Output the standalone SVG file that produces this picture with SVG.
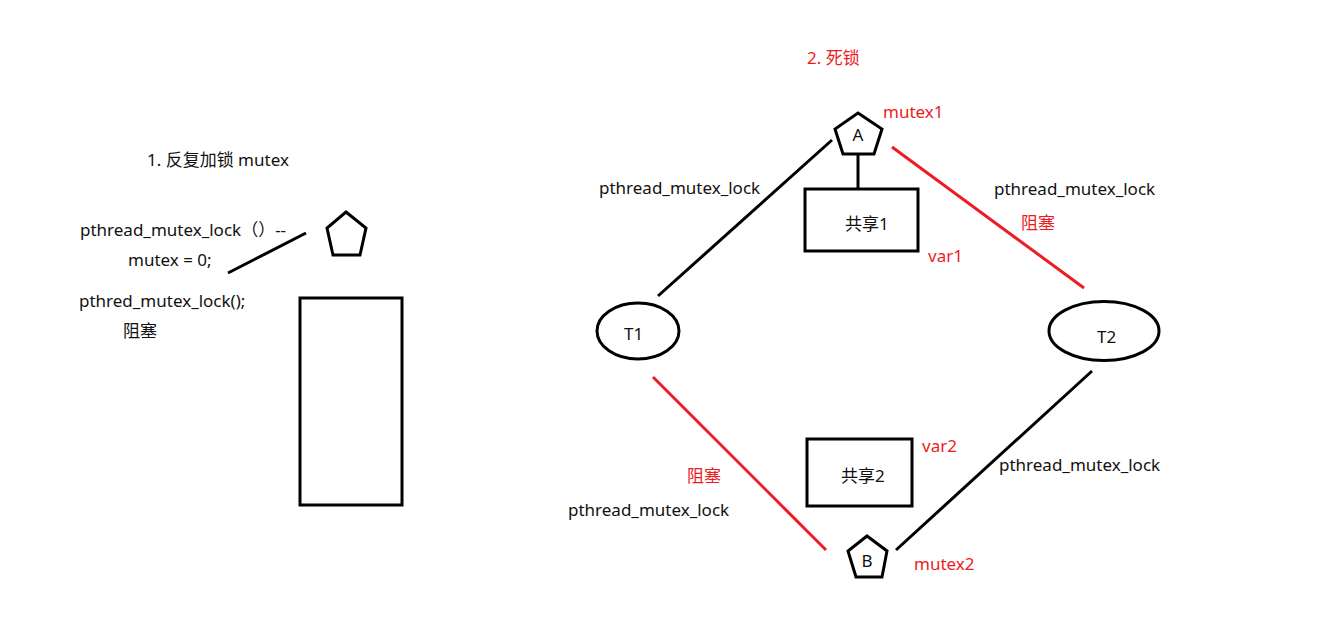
<svg xmlns="http://www.w3.org/2000/svg" width="1323" height="619" viewBox="0 0 1323 619">
<style>
.t{font-family:"Noto Sans","Noto Sans CJK SC",sans-serif;font-size:17px;fill:#111}
.r{fill:#ED1C24}
.s{fill:none;stroke:#000;stroke-width:3}
.ln{stroke:#000;stroke-width:3;fill:none}
.rl{stroke:#ED1C24;stroke-width:3;fill:none}
</style>
<rect width="1323" height="619" fill="#fff"/>
<g id="left">
  <text class="t" x="147" y="166">1. 反复加锁 mutex</text>
  <text class="t" x="80" y="236">pthread_mutex_lock（）--</text>
  <text class="t" x="128" y="266">mutex = 0;</text>
  <text class="t" x="79" y="307">pthred_mutex_lock();</text>
  <text class="t" x="123" y="337">阻塞</text>
</g>
<g id="lock0"><polygon class="s" points="346,212 366,228 360,255 333,255 327,228"/></g>
<g id="res0"><rect class="s" x="300" y="298" width="102" height="207"/></g>
<g id="connectors">
  <line class="ln" x1="306" y1="233" x2="228" y2="273"/>
  <line class="ln" x1="858" y1="154" x2="858" y2="189"/>
  <line class="ln" x1="658" y1="296" x2="832" y2="140"/>
  <line class="rl" x1="892" y1="147" x2="1084" y2="288"/>
  <line class="ln" x1="1092" y1="371" x2="896" y2="550"/>
  <line class="rl" x1="653" y1="377" x2="826" y2="550"/>
</g>
<text class="t r" x="807" y="64">2. 死锁</text>
<g id="A">
  <polygon class="s" points="858,113 882,129 874,154 843,154 835,129"/>
  <text class="t" x="858" y="141" text-anchor="middle">A</text>
  <text class="t r" x="883" y="118">mutex1</text>
</g>
<g id="share1">
  <rect class="s" x="805" y="189" width="113" height="62"/>
  <text class="t" x="845" y="230">共享1</text>
  <text class="t r" x="928" y="262">var1</text>
</g>
<g id="T1">
  <ellipse class="s" cx="638" cy="331" rx="41" ry="28"/>
  <text class="t" x="624" y="340">T1</text>
</g>
<g id="T2">
  <ellipse class="s" cx="1104" cy="331" rx="55" ry="29.5"/>
  <text class="t" x="1097" y="343">T2</text>
</g>
<g id="share2">
  <rect class="s" x="807" y="439" width="105" height="67"/>
  <text class="t" x="841" y="482">共享2</text>
  <text class="t r" x="922" y="452">var2</text>
</g>
<g id="B">
  <polygon class="s" points="867,536 887,551 882,577 856,577 848,551"/>
  <text class="t" x="867" y="567" text-anchor="middle">B</text>
  <text class="t r" x="914" y="570">mutex2</text>
</g>
<g id="labels">
  <text class="t" x="599" y="194">pthread_mutex_lock</text>
  <text class="t" x="994" y="195">pthread_mutex_lock</text>
  <text class="t r" x="1021" y="229">阻塞</text>
  <text class="t" x="999" y="471">pthread_mutex_lock</text>
  <text class="t r" x="687" y="482">阻塞</text>
  <text class="t" x="568" y="516">pthread_mutex_lock</text>
</g>
</svg>
